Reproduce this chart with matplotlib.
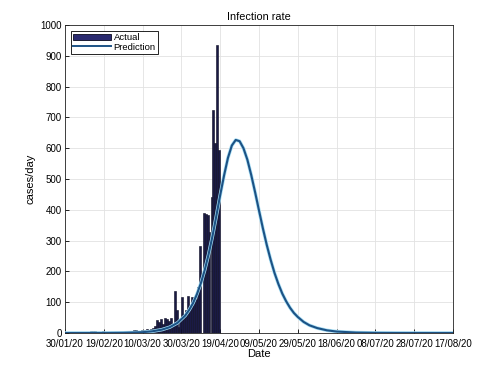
import matplotlib
matplotlib.use("Agg")
import matplotlib.pyplot as plt
import matplotlib.dates as mdates
import numpy as np
import datetime as dt

plt.rcParams['font.family'] = ['Liberation Sans', 'DejaVu Sans']

start_date = "2020-01-30"
# daily actual cases, starting 30/01/20
actual_values = [0, 0, 0, 0, 3, 4, 2, 0, 3, 4,
                 1, 0, 0, 5, 7, 6, 2, 0, 1, 8,
                 2, 0, 1, 0, 0, 1, 0, 1, 0, 0,
                 1, 2, 1, 2, 3, 10, 9, 8, 7, 9,
                 10, 11, 12, 9, 13, 15, 22, 42, 37, 45,
                 30, 48, 46, 38, 50, 30, 136, 75, 20, 42,
                 118, 62, 75, 120, 85, 118, 100, 110, 150, 283,
                 0, 390, 385, 383, 328, 442, 724, 617, 935, 594]

# prediction: day offsets from start and values
pred_days = [0, 10, 20, 30, 40, 45, 50, 54, 58, 62, 64, 66, 68, 70, 72, 74, 76, 78,
             80, 82, 84, 86, 88, 90, 92, 94, 96, 98, 100, 102, 104, 106, 108, 110,
             112, 114, 116, 118, 120, 123, 126, 130, 135, 140, 150, 160, 170, 180,
             190, 200]
pred_values = [0, 0.04, 0.16, 0.7, 2.7, 5.5, 11, 19, 33, 57, 75, 97, 126, 161, 204, 255, 314, 380,
               448, 512, 569, 609, 627, 623, 600, 563, 513, 457, 398, 340, 286, 238, 195, 159,
               128, 103, 82, 65, 52, 36, 25, 16, 8.7, 4.7, 1.4, 0.4, 0.12, 0.04,
               0.01, 0]

tick_dates = ["30/01/20", "19/02/20", "10/03/20", "30/03/20", "19/04/20", "09/05/20",
              "29/05/20", "18/06/20", "08/07/20", "28/07/20", "17/08/20"]
y_ticks = [0, 100, 200, 300, 400, 500, 600, 700, 800, 900, 1000]

d0 = dt.datetime.strptime(start_date, "%Y-%m-%d")
act_x = [d0 + dt.timedelta(days=i) for i in range(len(actual_values))]
pred_x = [d0 + dt.timedelta(days=d) for d in pred_days]
tick_x = [dt.datetime.strptime(t, "%d/%m/%y") for t in tick_dates]

fig = plt.figure(figsize=(5, 3.75), dpi=100)
ax = fig.add_axes([0.13, 0.112, 0.776, 0.821])

ax.bar(act_x, actual_values, width=1.0, align='edge', color='#1a1a45',
       edgecolor='#0a0a20', linewidth=0.4, label='Actual', zorder=2)
ax.plot(pred_x, pred_values, color='#a6def5', linewidth=2.5, zorder=3, solid_capstyle='round')
ax.plot(pred_x, pred_values, color='#1c5285', linewidth=1.5, zorder=4, label='Prediction')

ax.set_xlim(tick_x[0], tick_x[-1])
ax.set_ylim(0, 1000)
ax.set_xticks(tick_x)
ax.xaxis.set_major_formatter(mdates.DateFormatter('%d/%m/%y'))
ax.set_yticks(y_ticks)
ax.tick_params(direction='in', labelsize=7.0, length=3, width=0.6, top=False, right=False)
ax.tick_params(axis='x', pad=4)
ax.tick_params(axis='y', pad=2.5)
ax.grid(True, color='#e2e2e2', linewidth=0.6, zorder=0)
ax.set_axisbelow(True)
for s in ax.spines.values():
    s.set_linewidth(0.6)
    s.set_color('#222222')

ax.set_title('Infection rate', fontsize=7.8, pad=4)
ax.set_xlabel('Date', fontsize=8, labelpad=0)
ax.set_ylabel('cases/day', fontsize=8, labelpad=3)

from matplotlib.lines import Line2D
from matplotlib.patches import Patch
handles = [Patch(facecolor='#2a2a70', edgecolor='#0a0a20', linewidth=0.6),
           Line2D([0], [0], color='#1c5285', linewidth=1.4)]
leg = ax.legend(handles, ['Actual', 'Prediction'], loc='upper left', fontsize=6.8,
                frameon=True, fancybox=False, edgecolor='black', framealpha=1,
                handlelength=4.0, handleheight=0.7, borderpad=0.25, labelspacing=0.05,
                handletextpad=0.3, borderaxespad=0.6)
leg.get_frame().set_linewidth(0.6)

fig.savefig('out.png', dpi=100)
